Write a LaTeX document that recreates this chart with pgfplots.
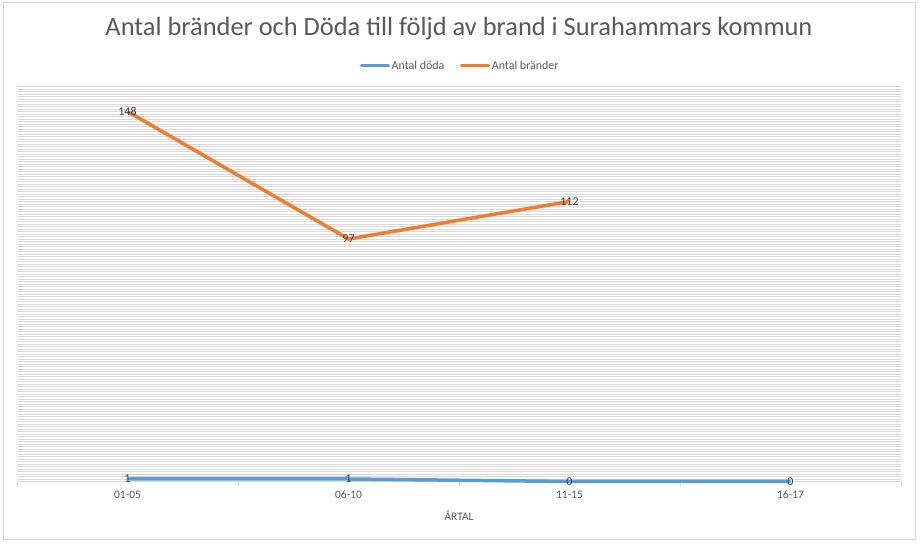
\documentclass[border=0pt]{standalone}
\usepackage{pgfplots}
\pgfplotsset{compat=1.18}
\usepackage{fontspec}
\setmainfont{Carlito}
\definecolor{cblue}{RGB}{91,155,213}
\definecolor{corange}{RGB}{237,125,49}
\definecolor{gridc}{RGB}{217,217,217}
\definecolor{txt}{RGB}{89,89,89}
\definecolor{lbl}{RGB}{64,64,64}
\begin{document}
\begin{tikzpicture}[x=1bp,y=1bp]
\useasboundingbox (0,0) rectangle (921,544);
\draw[gridc, line width=0.75bp] (3,5) rectangle (915,542);
\node[text=txt, font=\fontsize{26.5}{30}\selectfont] at (459,515) {Antal bränder och Döda till följd av brand i Surahammars kommun};
\begin{axis}[
  at={(17bp,62.5bp)}, anchor=south west,
  scale only axis, width=884bp, height=395bp,
  xmin=-0.5, xmax=3.5, ymin=0, ymax=158,
  /pgf/number format/assume math mode=true,
  axis line style={draw=none},
  xtick={0,1,2,3},
  xticklabels={01-05,06-10,11-15,16-17},
  x tick label style={text=txt, font=\fontsize{11.5}{13}\selectfont, yshift=-6bp},
  major tick length=0pt,
  extra x ticks={-0.5,0.5,1.5,2.5,3.5},
  extra x tick labels={},
  extra x tick style={major tick length=5bp, tick align=outside, tick pos=bottom, tick style={gridc, line width=0.75bp}},
  ytick={0,1,...,158},
  yticklabels={},
  ymajorgrids,
  y grid style={gridc, line width=0.75bp},
  xlabel={ÅRTAL},
  xlabel style={text=txt, font=\fontsize{11.5}{13}\selectfont, at={(axis description cs:0.5,0)}, anchor=center, yshift=-34bp},
  clip=false,
  legend columns=2,
  legend style={at={(0.501,1.0525)}, anchor=center, draw=none, fill=none, font=\fontsize{12}{14}\selectfont, text=txt,
    /tikz/every even column/.style={column sep=14bp}, nodes={inner xsep=1.5bp}},
  legend image code/.code={\draw[#1, line width=3.5bp, line cap=round] (0bp,0bp) -- (27bp,0bp);},
  nodes near coords,
  every node near coord/.append style={anchor=center, text=lbl, font=\fontsize{12}{14}\selectfont},
]
\draw[gridc, line width=0.75bp] (axis cs:-0.5,0) -- (axis cs:3.5,0);
\addplot[cblue, line width=3.5bp] coordinates {(0,1) (1,1) (2,0) (3,0)};
\addlegendentry{Antal döda}
\addplot[corange, line width=3.5bp] coordinates {(0,148) (1,97) (2,112)};
\addlegendentry{Antal bränder}
\end{axis}
\end{tikzpicture}
\end{document}
